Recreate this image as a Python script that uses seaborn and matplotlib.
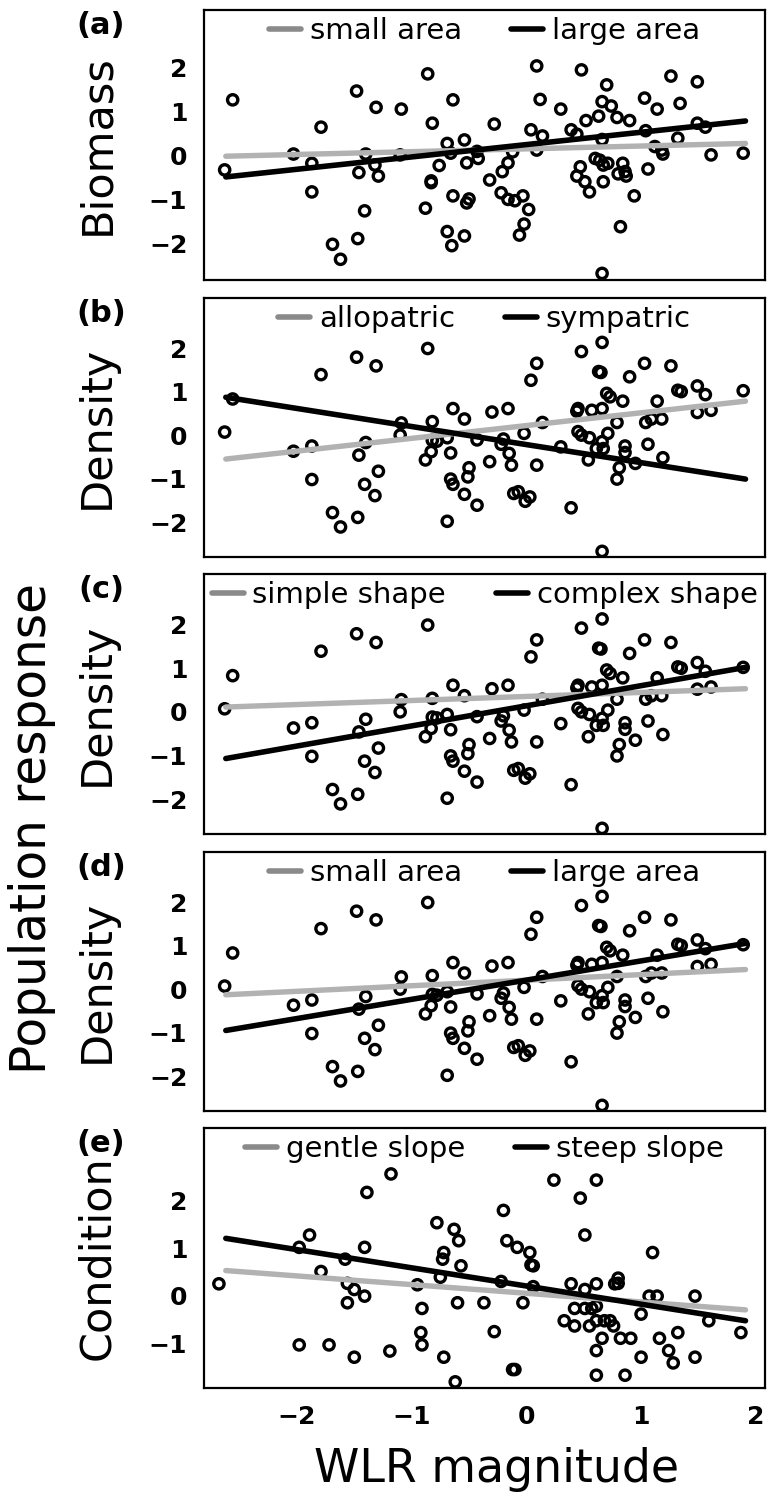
import numpy as np
import pandas as pd
import matplotlib
matplotlib.use("Agg")
import matplotlib.pyplot as plt
from matplotlib.lines import Line2D
import seaborn as sns

# ---- data -----------------------------------------------------------------
wlr_a = [-2.63, -2.56, -2.03, -1.87, -1.87, -1.79, -1.69, -1.62, -1.48, -1.47,
         -1.46, -1.40, -1.41, -1.31, -1.32, -1.29, -1.09, -1.10, -0.86, -0.82,
         -0.88, -0.83, -0.83, -0.76, -0.69, -0.66, -0.64, -0.64, -0.69, -0.65,
         -0.54, -0.54, -0.52, -0.50, -0.52, -0.42, -0.43,
         -0.28, -0.32, -0.21, -0.16, -0.12, -0.22, -0.16, -0.10, -0.03, 0.02,
         -0.02, -0.06, 0.09, 0.12, 0.04, 0.14, 0.09, 0.30, 0.48, 0.39,
         0.44, 0.52, 0.63, 0.66, 0.70, 0.74, 0.79, 0.90, 0.66, 0.47,
         0.44, 0.51, 0.55, 0.60, 0.64, 0.67, 0.71, 0.67, 0.84, 0.86,
         0.80, 0.87, 0.94, 0.82, 0.66, 1.03, 1.14, 1.04, 1.12, 1.18,
         1.19, 1.06, 1.26, 1.34, 1.32, 1.49, 1.49, 1.56, 1.61, 1.89]
biomass = [-0.33, 1.26, 0.03, -0.18, -0.83, 0.64, -2.02, -2.36, 1.46, -1.89,
           -0.39, 0.03, -1.26, 1.09, -0.22, -0.47, 1.05, 0.01, 1.85, 0.73,
           -1.20, -0.58, -0.62, -0.23, 0.27, 0.05, 1.26, -0.92, -1.73, -2.05,
           -1.83, 0.35, -0.17, -0.99, -1.08, -0.07, 0.09,
           0.71, -0.56, -0.37, -0.17, 0.08, -0.85, -1.00, -1.03, -0.92, -1.23,
           -1.56, -1.81, 2.03, 1.27, 0.58, 0.44, 0.12, 1.05, 1.94, 0.58,
           0.48, 0.79, 0.89, 1.22, 1.60, 1.12, 0.86, 0.79, 0.36, -0.26,
           -0.47, -0.60, -0.83, -0.07, -0.11, -0.22, -0.18, -0.60, -0.18, -0.37,
           -0.42, -0.47, -0.92, -1.62, -2.68, 1.30, 1.05, 0.56, 0.20, 0.12,
           0.03, -0.31, 1.80, 1.18, 0.39, 1.67, 0.73, 0.64, 0.01, 0.05]

wlr_d = [-2.63, -2.56, -2.03, -1.87, -1.87, -1.79, -1.69, -1.62, -1.48, -1.47,
         -1.46, -1.40, -1.41, -1.31, -1.32, -1.29, -1.09, -1.10, -0.86, -0.82,
         -0.88, -0.83, -0.82, -0.78, -0.69, -0.64, -0.54, -0.66, -0.66, -0.64,
         -0.54, -0.50, -0.51, -0.43, -0.43, -0.69, -0.30, -0.32,
         -0.16, -0.22, -0.20, -0.15, -0.13, -0.02, 0.04, 0.09, 0.09, 0.14,
         -0.11, -0.07, -0.01, 0.03, 0.30, 0.39, 0.48, 0.66, 0.63, 0.65,
         0.44, 0.45, 0.57, 0.66, 0.70, 0.73, 0.84, 0.90, 0.79, 0.45,
         0.48, 0.55, 0.54, 0.61, 0.66, 0.67, 0.71, 0.86, 0.86, 0.95,
         0.81, 0.79, 0.66, 1.03, 1.26, 1.14, 1.04, 1.09, 1.18, 1.06,
         1.19, 1.32, 1.35, 1.49, 1.56, 1.49, 1.61, 1.89]
density = [0.07, 0.83, -0.37, -0.25, -1.02, 1.39, -1.78, -2.11, 1.79, -1.89,
           -0.46, -0.17, -1.13, 1.59, -1.39, -0.83, 0.28, 0.00, 1.99, 0.31,
           -0.57, -0.38, -0.12, -0.14, -1.98, 0.61, 0.37, -0.41, -1.01, -1.13,
           -1.36, -0.75, -0.96, -1.61, -0.11, -0.06, 0.53, -0.61,
           0.61, -0.21, -0.09, -0.42, -0.69, 0.04, 1.26, 1.65, -0.69, 0.29,
           -1.34, -1.30, -1.52, -1.42, -0.27, -1.67, 1.92, 2.13, 1.46, 1.44,
           0.55, 0.61, 0.57, 0.61, 0.96, 0.88, 0.78, 1.34, 0.29, 0.08,
           0.00, -0.06, -0.57, -0.31, -0.15, -0.31, 0.04, -0.25, -0.40, -0.65,
           -0.75, -1.01, -2.67, 1.65, 1.59, 0.78, 0.29, 0.37, 0.37, -0.21,
           -0.52, 1.03, 1.00, 1.13, 0.93, 0.52, 0.57, 1.02]

wlr_e = [-2.68, -1.98, -1.89, -1.98, -1.79, -1.72, -1.58, -1.56, -1.50, -1.56,
         -1.41, -1.41, -1.39, -1.50, -1.18, -1.19, -0.95, -0.91, -0.92, -0.91,
         -0.72, -0.62, -0.78, -0.63, -0.59, -0.72, -0.73, -0.57, -0.75, -0.60,
         -0.37, -0.20, -0.17, -0.08, 0.03, 0.04, 0.06, -0.22, 0.06, -0.03,
         -0.28, -0.12, -0.10, 0.24, 0.61, 0.47, 0.51, 0.39, 0.51, 0.61,
         0.42, 0.51, 0.57, 0.61, 0.33, 0.42, 0.55, 0.61, 0.68, 0.73,
         0.76, 0.66, 0.61, 0.82, 0.91, 0.61, 0.86, 0.80, 0.80, 0.77,
         1.10, 1.00, 1.07, 1.14, 1.00, 1.16, 1.24, 1.28, 1.32, 1.47,
         1.47, 1.59, 1.87]
condition = [0.25, 1.02, 1.28, -1.04, 0.51, -1.04, 0.77, 0.26, 0.13, -0.15,
             -0.01, 1.02, 2.18, -1.30, 2.57, -1.17, 0.23, -0.27, -0.78, -1.04,
             -1.30, -1.82, 1.54, 1.40, 1.16, 0.91, 0.77, 0.63, 0.39, -0.15,
             -0.15, 1.80, 1.16, 1.02, 0.91, 0.65, 0.63, 0.30, 0.19, -0.15,
             -0.76, -1.56, -1.56, 2.44, 2.44, 2.06, 1.28, 0.25, 0.13, 0.25,
             -0.27, -0.27, -0.27, -0.22, -0.53, -0.64, -0.64, -0.53, -0.53, -0.53,
             -0.64, -0.90, -1.16, -0.90, -0.90, -1.68, -1.68, 0.37, 0.26, 0.25,
             0.91, -0.39, -0.01, -0.01, -1.30, -0.90, -1.16, -1.42, -0.78, -0.01,
             -1.30, -0.53, -0.78]

# fitted lines: predictions at the ends of the WLR range
fit_x = [-2.62, 1.91]
fit_a_small = [-0.02, 0.27]
fit_a_large = [-0.49, 0.78]
fit_b_allo = [-0.55, 0.78]
fit_b_symp = [0.87, -1.01]
fit_c_simple = [0.11, 0.53]
fit_c_complex = [-1.07, 1.02]
fit_d_small = [-0.13, 0.45]
fit_d_large = [-0.95, 1.05]
fit_e_gentle = [0.53, -0.30]
fit_e_steep = [1.21, -0.53]

panel_letters = ["(a)", "(b)", "(c)", "(d)", "(e)"]
response_names = ["Biomass", "Density", "Density", "Density", "Condition"]
legend_labels = [("small area", "large area"),
                 ("allopatric", "sympatric"),
                 ("simple shape", "complex shape"),
                 ("small area", "large area"),
                 ("gentle slope", "steep slope")]
x_ticks = [-2, -1, 0, 1, 2]
y_ticks = [[-2, -1, 0, 1, 2]] * 4 + [[-1, 0, 1, 2]]

panels = [
    (wlr_a, biomass, fit_a_small, fit_a_large),
    (wlr_d, density, fit_b_allo, fit_b_symp),
    (wlr_d, density, fit_c_simple, fit_c_complex),
    (wlr_d, density, fit_d_small, fit_d_large),
    (wlr_e, condition, fit_e_gentle, fit_e_steep),
]

# ---- layout (pixel geometry of a 767 x 1502 canvas) -----------------------
W, H = 767, 1502
ax_left, ax_right = 204, 765
ax_tops = [10, 298, 574, 852, 1128]
ax_bots = [280, 557, 834, 1111, 1388]
y_limits = [(-2.83, 3.30), (-2.80, 3.15), (-2.80, 3.16), (-2.80, 3.15), (-1.95, 3.54)]
x_limits = (-2.81, 2.08)

sns.set_style("white")
plt.rcParams["font.family"] = ["DejaVu Sans"]
for key in ["text.color", "axes.labelcolor", "xtick.color", "ytick.color"]:
    plt.rcParams[key] = "black"

fig = plt.figure(figsize=(W / 100, H / 100), dpi=100)

gray_line = "#b2b2b2"
gray_key = "#8a8a8a"

for i, (xs, ys, fit_gray, fit_black) in enumerate(panels):
    top, bot = ax_tops[i], ax_bots[i]
    ax = fig.add_axes([ax_left / W, 1 - bot / H, (ax_right - ax_left) / W, (bot - top) / H])

    sns.scatterplot(x=xs, y=ys, ax=ax, marker="o", s=55, facecolors="none",
                    edgecolor="black", linewidth=2.4, zorder=2)
    sns.lineplot(x=fit_x, y=fit_gray, ax=ax, color=gray_line, linewidth=3.9, zorder=3)
    sns.lineplot(x=fit_x, y=fit_black, ax=ax, color="black", linewidth=4.0, zorder=4)

    ax.set_xlim(*x_limits)
    ax.set_ylim(*y_limits[i])
    ax.set_xticks(x_ticks)
    ax.set_yticks(y_ticks[i])
    ax.tick_params(axis="both", direction="out", length=9, width=1.3,
                   labelsize=18, pad=3, color="black", labelcolor="black")
    for lab in ax.get_yticklabels() + ax.get_xticklabels():
        lab.set_fontweight("bold")
    if i < 4:
        ax.tick_params(axis="x", labelbottom=False)
    for sp in ax.spines.values():
        sp.set_visible(True)
        sp.set_linewidth(1.6)
        sp.set_color("black")

    handles = [Line2D([0], [0], color=gray_key, lw=4),
               Line2D([0], [0], color="black", lw=4)]
    ax.legend(handles, legend_labels[i], loc="upper center", bbox_to_anchor=(0.5, 1.0),
              ncol=2, frameon=False, fontsize=21, handlelength=1.1,
              handletextpad=0.3, columnspacing=1.7, borderaxespad=0.1,
              borderpad=0.15, labelcolor="black")

    fig.text(101 / W, 1 - (top + 16) / H, panel_letters[i], fontsize=22,
             fontweight="bold", ha="center", va="center")
    fig.text(97 / W, 1 - (top + bot) / 2 / H, response_names[i], fontsize=31,
             rotation=90, ha="center", va="center")

fig.text(32 / W, 1 - 828 / H, "Population response", fontsize=35,
         rotation=90, ha="center", va="center")
fig.text(497 / W, 1 - 1470 / H, "WLR magnitude", fontsize=33,
         ha="center", va="center")

fig.savefig("out.png", dpi=100)
